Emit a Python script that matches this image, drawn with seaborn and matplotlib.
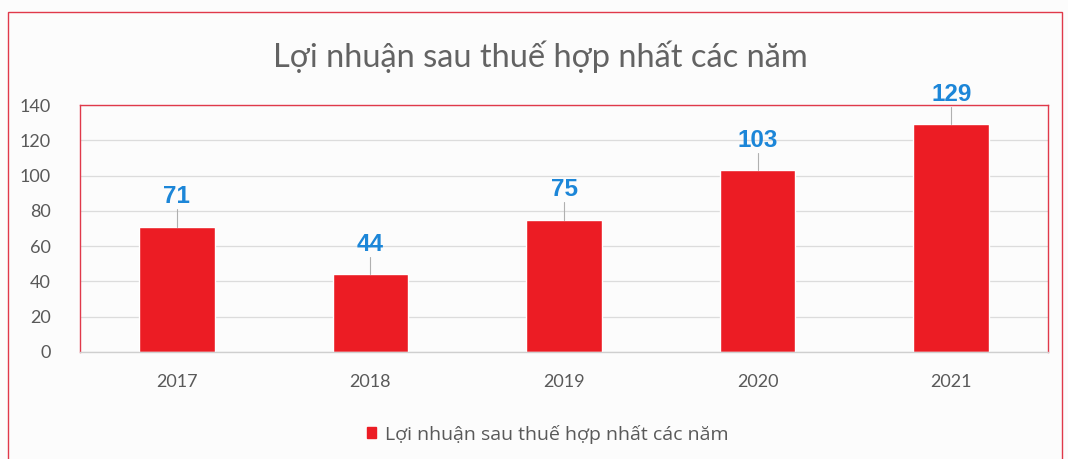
import matplotlib
matplotlib.use("Agg")
import matplotlib.pyplot as plt
import matplotlib.patches as mpatches
import seaborn as sns
import pandas as pd

years = ["2017", "2018", "2019", "2020", "2021"]
values = [71, 44, 75, 103, 129]
title = "Lợi nhuận sau thuế hợp nhất các năm"
legend_label = "Lợi nhuận sau thuế hợp nhất các năm"
yticks = [0, 20, 40, 60, 80, 100, 120, 140]

bar_color = "#ec1c24"
label_color = "#1c86d8"
text_color = "#595959"
border_color = "#e0394a"

sns.set_theme(style="white")
plt.rcParams["font.family"] = ["Lato", "DejaVu Sans"]

df = pd.DataFrame({"year": years, "value": values})

fig = plt.figure(figsize=(10.68, 4.59), dpi=100)
fig.patch.set_facecolor("#fcfcfc")
ax = fig.add_axes([80/1068, 1-352/459, (1048-80)/1068, (352-105)/459])
ax.set_facecolor("#fcfcfc")

sns.barplot(data=df, x="year", y="value", color=bar_color, saturation=1,
            width=0.39, ax=ax)

ax.set_xlim(-0.5, len(years) - 0.5)
ax.set_ylim(0, 140)
ax.set_yticks(yticks)
ax.yaxis.grid(True, color="#dcdcdc", linewidth=0.9)
ax.set_axisbelow(True)
ax.set_xlabel("")
ax.set_ylabel("")
ax.tick_params(axis="both", length=0, labelsize=13, colors=text_color)
ax.tick_params(axis="x", pad=16)
ax.tick_params(axis="y", pad=21)

for side in ["left", "top", "right"]:
    ax.spines[side].set_color(border_color)
    ax.spines[side].set_linewidth(1.0)
ax.spines["bottom"].set_color("#cfcfcf")
ax.spines["bottom"].set_linewidth(1.0)

for i, v in enumerate(values):
    ax.plot([i, i], [v, v + 10], color="#b0b0b0", linewidth=0.8, zorder=3, clip_on=False)
    ax.text(i, v + 17, str(v), ha="center", va="center", color=label_color,
            fontsize=17.5, fontweight="bold", family=["Liberation Sans", "DejaVu Sans"],
            clip_on=False)

fig.text(540/1068, 1-57/459, title, ha="center", va="center", fontsize=23.5,
         fontweight="normal", color="#636363")

handles = [mpatches.Patch(color=bar_color, label=legend_label)]
leg = fig.legend(handles=handles, loc="center", bbox_to_anchor=(548/1068, 1-434/459),
                 frameon=False, prop={"family": ["Open Sans", "DejaVu Sans"], "size": 14},
                 handlelength=0.45, handleheight=0.45, handletextpad=0.5,
                 labelcolor=text_color)

fig.patches.append(mpatches.Rectangle((8/1068, -0.05), (1062-8)/1068, (1-12/459) + 0.05,
                                      transform=fig.transFigure, fill=False,
                                      edgecolor=border_color, linewidth=1.0))

fig.savefig("out.png", dpi=100, facecolor=fig.get_facecolor())
